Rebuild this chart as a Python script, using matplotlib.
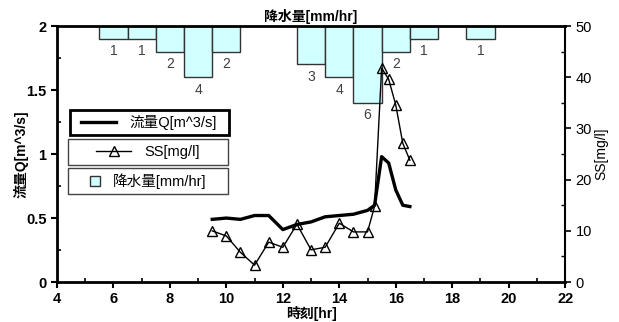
import numpy as np
import matplotlib
matplotlib.use("Agg")
import matplotlib.pyplot as plt
from matplotlib.lines import Line2D
from matplotlib.patches import Rectangle
from matplotlib.legend import Legend
from matplotlib.ticker import MultipleLocator, FormatStrFormatter, FuncFormatter

plt.rcParams['font.family'] = ['Liberation Sans', 'Noto Sans CJK JP', 'DejaVu Sans']

# flow rate [m^3/s]
q_time = [9.5, 10, 10.5, 11, 11.5, 12, 12.5, 13, 13.5, 14, 14.5, 15, 15.25,
          15.5, 15.75, 16, 16.25, 16.5]
q_vals = [0.49, 0.50, 0.49, 0.52, 0.52, 0.41, 0.45, 0.47, 0.51, 0.52, 0.53,
          0.56, 0.60, 0.98, 0.93, 0.72, 0.60, 0.59]

# SS [mg/l]
ss_time = [9.5, 10, 10.5, 11, 11.5, 12, 12.5, 13, 13.5, 14, 14.5, 15, 15.25,
           15.5, 15.75, 16, 16.25, 16.5]
ss_vals = [10.0, 9.0, 5.8, 3.3, 7.8, 6.8, 11.3, 6.3, 6.8, 11.5, 9.8, 9.8, 14.8,
           41.8, 39.6, 34.6, 27.1, 23.8]

# rainfall [mm/hr]
rain_time = [6, 7, 8, 9, 10, 13, 14, 15, 16, 17, 19]
rain_vals = [1, 1, 2, 4, 2, 3, 4, 6, 2, 1, 1]

fig = plt.figure(figsize=(6.19, 3.22), dpi=100)
ax = fig.add_axes([0.092, 0.124, 0.821, 0.795])
ax_ss = ax.twinx()
ax_rain = ax.twinx()

# rainfall bars hanging from the top
ax_rain.bar(rain_time, rain_vals, width=1.0, color='#d2ffff', edgecolor='#333333',
            linewidth=1.0, zorder=1)
ax_rain.set_ylim(20, 0)
ax_rain.axis('off')
for t, v in zip(rain_time, rain_vals):
    ax_rain.annotate(str(v), (t, v), xytext=(0, -4), textcoords='offset points',
                     ha='center', va='top', fontsize=10, color='#404040')

ax.plot(q_time, q_vals, color='black', lw=2.4, zorder=3)
ax_ss.plot(ss_time, ss_vals, color='black', lw=1.0, marker='^', markersize=7,
           markerfacecolor='none', markeredgecolor='black', markeredgewidth=1.0)

ax.set_zorder(3)
ax.patch.set_visible(False)
ax_ss.set_zorder(4)
ax_rain.set_zorder(1)

ax.set_xlim(4, 22)
ax.set_ylim(0, 2)
ax_ss.set_ylim(0, 50)

ax.xaxis.set_major_locator(MultipleLocator(2))
ax.xaxis.set_minor_locator(MultipleLocator(1))
ax.yaxis.set_major_locator(MultipleLocator(0.5))
ax.yaxis.set_minor_locator(MultipleLocator(0.25))
ax.yaxis.set_major_formatter(FuncFormatter(lambda v, p: f'{v:g}'))
ax_ss.yaxis.set_major_locator(MultipleLocator(10))
ax_ss.yaxis.set_minor_locator(MultipleLocator(5))
ax_ss.yaxis.set_major_formatter(FormatStrFormatter('%d'))

ax.tick_params(which='major', direction='out', length=4, width=1.5, labelsize=10.5)
ax.tick_params(which='minor', direction='in', length=3, width=1.2)
ax.tick_params(axis='x', which='both', top=False)
ax_ss.tick_params(which='major', direction='out', length=4, width=1.2, labelsize=10.5)
ax_ss.tick_params(which='minor', direction='in', length=3, width=1.0)
for lab in ax.get_xticklabels() + ax.get_yticklabels():
    lab.set_fontweight('bold')

for side in ['left', 'top', 'bottom']:
    ax.spines[side].set_linewidth(2.0)
ax.spines['right'].set_visible(False)
for side in ['left', 'top', 'bottom']:
    ax_ss.spines[side].set_visible(False)
ax_ss.spines['right'].set_linewidth(1.5)

ax.set_xlabel('時刻[hr]', fontsize=10, fontweight='bold', labelpad=0)
ax.set_ylabel('流量Q[m^3/s]', fontsize=10, fontweight='bold')
ax.yaxis.set_label_coords(-0.055, 0.5)
ax_ss.set_ylabel('SS[mg/l]', fontsize=10, labelpad=2)
ax.set_title('降水量[mm/hr]', fontsize=10, fontweight='bold', pad=4)

# three separate legend boxes
boxes = [
    (0.025, 0.574, 0.313, 0.098, 2.0, 'black',
     Line2D([], [], color='black', lw=2.4), '流量Q[m^3/s]', 2.4),
    (0.022, 0.457, 0.315, 0.102, 1.0, '#444444',
     Line2D([], [], color='black', lw=1.0, marker='^', markersize=7,
            markerfacecolor='none'), 'SS[mg/l]', 2.4),
    (0.022, 0.344, 0.315, 0.101, 1.0, '#444444',
     Rectangle((0, 0), 1, 1, facecolor='#d2ffff', edgecolor='#333333'), '降水量[mm/hr]', 0.7),
]
for x0, y0, w, h, lw, ec, handle, label, hl in boxes:
    ax_ss.add_patch(Rectangle((x0, y0), w, h, transform=ax.transAxes, fill=True,
                              facecolor='white', edgecolor=ec, linewidth=lw, zorder=5))
    leg = Legend(ax_ss, [handle], [label], loc='center',
                 bbox_to_anchor=(x0 + w / 2, y0 + h / 2),
                 bbox_transform=ax.transAxes, frameon=False, fontsize=10.5,
                 handlelength=hl, handleheight=0.7, handletextpad=0.9, borderpad=0.1)
    leg.set_zorder(6)
    ax_ss.add_artist(leg)

fig.savefig('out.png', dpi=100)
